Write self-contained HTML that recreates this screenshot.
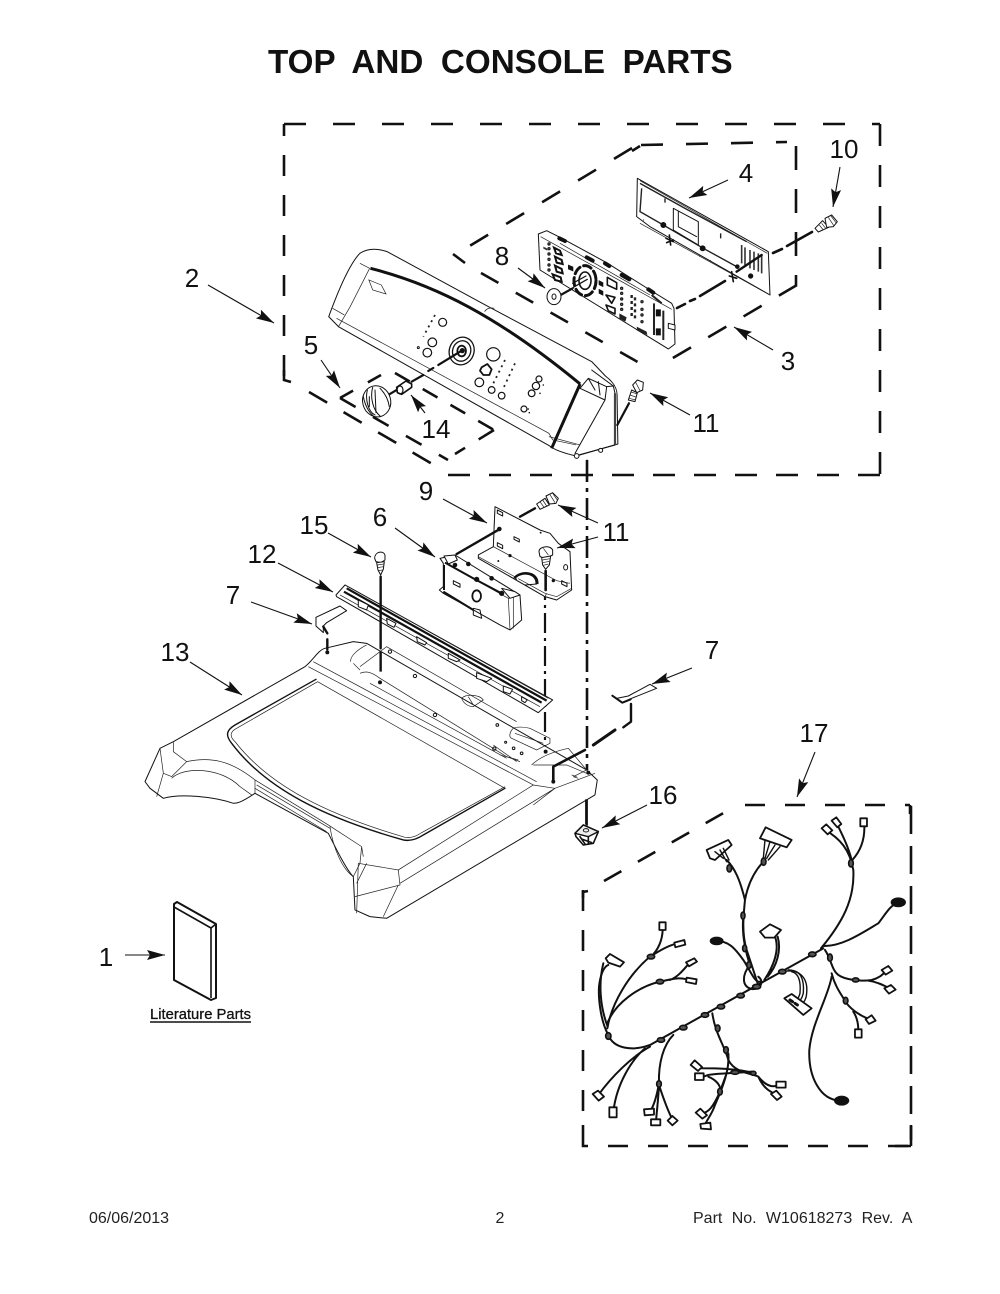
<!DOCTYPE html>
<html><head><meta charset="utf-8"><style>
html,body{margin:0;padding:0;background:#fff}
svg{display:block}
svg *{vector-effect:non-scaling-stroke}
text{font-family:"Liberation Sans",sans-serif;fill:#111}
.n{font-size:26px;text-anchor:middle}
.f{font-size:16px;fill:#222}
.l{fill:none;stroke:#111;stroke-width:1;stroke-linejoin:round;stroke-linecap:round}
.t{fill:none;stroke:#222;stroke-width:.7}
.w{fill:#fff;stroke:#111;stroke-width:1;stroke-linejoin:round}
.d{fill:none;stroke:#111;stroke-width:2.6}
.b{fill:#111;stroke:#111;stroke-width:.6}
.h{fill:none;stroke:#111;stroke-width:2;stroke-linecap:round;stroke-linejoin:round}
.c{fill:#fff;stroke:#111;stroke-width:1.8;stroke-linejoin:round}
.e{fill:#555;stroke:#111;stroke-width:1.6}
</style></head><body>
<svg width="1000" height="1294" viewBox="0 0 1000 1294" xmlns="http://www.w3.org/2000/svg">
<defs><marker id="m" markerUnits="userSpaceOnUse" markerWidth="20" markerHeight="12" refX="18" refY="5" orient="auto"><path d="M0,0L18,5L0,10L3,5Z" fill="#111"/></marker></defs>

<text x="268" y="73" style="font-size:33.2px;font-weight:bold;word-spacing:8.4px">TOP AND CONSOLE PARTS</text>

<!-- Outer dashed box -->
<path class="d" stroke-dasharray="21 19" d="M284,376V124"/>
<path class="d" stroke-dasharray="22 27" d="M284,124H880"/>
<path class="d" stroke-dasharray="22 19" d="M880,124V476"/>
<path class="d" stroke-dasharray="22 19" d="M880,475H448"/>
<path class="d" d="M284,370V380L291,382"/>
<path class="d" stroke-dasharray="21 19" d="M309,392L434,465"/>

<!-- Inner dashed box (3) -->
<path class="d" stroke-dasharray="21 21" d="M632,148L453,256"/>
<path class="d" d="M640,146L632,151M453,254L465,263"/>
<path class="d" stroke-dasharray="22 23" d="M641,145L787,142"/>
<path class="d" stroke-dasharray="24 19" d="M796,146V285"/>
<path class="d" stroke-dasharray="21 20" d="M797,285L661,365"/>
<path class="d" stroke-dasharray="20 20" d="M481,273L650,369"/>

<!-- Box 5 -->
<path class="d" stroke-dasharray="15 17" d="M340,398L381,375"/>
<path class="d" stroke-dasharray="18 20" d="M340,398L448,460"/>
<path class="d" stroke-dasharray="17 15" d="M395,373L494,430"/>
<path class="d" stroke-dasharray="18 16" d="M494,430L455,454"/>

<!-- Dash-dot centre lines -->
<path class="d" stroke-dasharray="22 6 4 6" d="M587,460V770"/>
<path class="h" d="M587,800V825" style="stroke-width:1.8"/>
<path class="d" style="stroke-width:2.2" stroke-dasharray="20 5 3 5" d="M545,580V750"/>

<!-- Connector dashes at boards -->
<path class="h" d="M677,308L685,304M690,301L695,299M700,296L725,281M773,253L782,249M787,246L812,232" style="stroke-width:2.6"/>

<!-- Console shell (crop 1 coordinates) -->
<g transform="translate(280,120) scale(.3897,.3333)">
<path class="w" d="M125,590C150,510 180,430 205,400C225,385 250,385 275,395L535,560L800,725L835,768C860,790 866,810 865,830L867,972L760,1008C730,1000 705,990 692,978L150,620Z"/>
<path class="t" d="M150,620L180,560L230,445M135,565L165,585M205,430L230,445M525,575C530,565 540,562 550,565M690,950L770,975"/>
<path class="t" d="M145,595L690,940L700,960L760,975"/>
<path fill="none" stroke="#111" stroke-width="3" d="M232,445C400,495 560,590 770,792"/>
<path fill="none" stroke="#111" stroke-width="3" d="M770,792L697,985"/>
<path class="t" d="M228,480L260,495L272,522L238,510Z"/>
<path class="h" d="M788,1022V1042M788,1062L788,1078"/>
</g>

<!-- Console right cap + screw 11 (crop A coordinates) -->
<g transform="translate(560,370) scale(.3333)">
<path class="l" d="M60,55L85,25L140,50L135,90L45,250M60,55L135,90M85,25L105,60M115,35L120,75M95,0L160,48L165,70M140,50L160,48"/>
<path fill="none" stroke="#444" stroke-width="2.2" d="M165,70V225"/>
<path class="l" d="M45,258L165,225"/>
<circle class="w" cx="50" cy="258" r="7"/><circle class="w" cx="122" cy="241" r="6"/>
<path class="h" d="M172,165L207,100" style="stroke-width:2.2"/>
<path class="w" d="M205,90L215,60L232,68L225,95Z"/>
<path class="w" d="M218,45L232,30L250,37L248,60L230,68Z"/>
<path class="t" d="M207,85L228,90M210,75L230,82M213,66L233,72M226,35L240,62"/>
</g>

<!-- Panel controls, knob (crop D coordinates) -->
<g transform="translate(340,310) scale(.3333)">
<g class="l" style="stroke-width:1.2">
<circle cx="308" cy="37" r="12"/><circle cx="277" cy="97" r="13"/><circle cx="262" cy="128" r="13"/>
<circle cx="460" cy="133" r="20"/><circle cx="418" cy="217" r="13"/><circle cx="455" cy="240" r="10"/><circle cx="485" cy="257" r="10"/><circle cx="552" cy="297" r="9"/>
<circle cx="597" cy="207" r="9"/><circle cx="588" cy="228" r="11"/><circle cx="575" cy="250" r="10"/>
</g>
<path d="M425,172L442,162L455,178L448,195L430,195L420,182Z" fill="none" stroke="#111" stroke-width="1.8" stroke-linejoin="round"/>
<circle class="l" cx="235" cy="113" r="3"/>
<path fill="none" stroke="#222" stroke-width="1.8" stroke-dasharray="2 4" d="M285,15L250,80M495,150L460,220M525,160L490,235"/>
<circle class="b" cx="565" cy="297" r="1.5"/><circle class="b" cx="568" cy="308" r="1.5"/><circle class="b" cx="610" cy="225" r="1.5"/><circle class="b" cx="600" cy="250" r="1.5"/>
<ellipse class="l" cx="365" cy="123" rx="37" ry="42" transform="rotate(20 365 123)" style="stroke-width:1.3"/>
<ellipse class="l" cx="365" cy="123" rx="27" ry="31" transform="rotate(20 365 123)" style="stroke-width:1.3"/>
<ellipse cx="365" cy="123" rx="13" ry="16" fill="none" stroke="#111" stroke-width="1.8"/>
<circle class="b" cx="367" cy="122" r="7"/>
<path class="h" d="M295,165L365,122" style="stroke-width:2.2"/>
<path class="h" d="M265,183L280,174" style="stroke-width:2.2"/>
<path class="h" d="M215,215L250,195M145,255L170,240" style="stroke-width:2.2"/>
<!-- connector 14 -->
<path d="M170,232L198,213L215,222L215,232L185,253L172,248Z" fill="#fff" stroke="#111" stroke-width="1.6" stroke-linejoin="round"/>
<ellipse cx="180" cy="240" rx="9" ry="12" fill="none" stroke="#111" stroke-width="1.2"/>
<!-- knob -->
<ellipse class="w" cx="110" cy="274" rx="42" ry="47" transform="rotate(-15 110 274)"/>
<path class="l" d="M82,240C75,270 85,305 105,315M98,232C90,260 98,300 120,318M70,260C75,285 85,305 100,318M88,260L88,290M105,240L108,308M120,235C135,250 145,270 148,290"/>
</g>

<!-- Control panel 4 (crop C coordinates) -->
<g transform="translate(630,170) scale(.3333)">
<path class="w" d="M22,25L415,245L420,375L60,170L20,140Z"/>
<path class="t" d="M30,32L412,250M30,160L420,375"/>
<path fill="none" stroke="#222" stroke-width="1.4" d="M30,40L165,115L285,180L350,215M35,55L30,125L100,165L220,235L320,290"/>
<path class="l" d="M130,115L205,155V225L130,180ZM145,125V170L200,200"/>
<path fill="none" stroke="#333" stroke-width="1.6" d="M335,225V280M345,232V285M360,240V295M372,245V300M385,250V305M395,255V310"/>
<path fill="none" stroke="#222" stroke-width="1.4" d="M272,190V205M105,85V98M40,150h2M208,258h2M240,272h2"/>
<circle class="b" cx="100" cy="165" r="8"/><circle class="b" cx="218" cy="235" r="8"/><circle class="b" cx="322" cy="290" r="6"/><circle class="b" cx="362" cy="318" r="7"/>
<path class="l" d="M108,205L130,215M118,195L122,225M110,218L130,210M298,318L320,325M305,305L310,335" style="stroke-width:1.6"/>
<path class="h" d="M320,305L395,255" style="stroke-width:2.4"/>
<!-- screw 10 -->
<path class="w" d="M555,175L578,152L596,172L565,186Z"/>
<path class="w" d="M585,145L605,135L622,155L610,170L590,172Z"/>
<path class="t" d="M595,142L612,168M603,138L618,158M568,165L580,180M575,160L587,175"/>
</g>

<!-- Board 8 (crop 5 coordinates) -->
<g transform="translate(530,220) scale(.3333)">
<path class="w" d="M25,42L50,32L90,52L230,128L360,210L425,250L432,265L435,372L415,387L30,150Z"/>
<path class="t" d="M32,50L425,268M90,70L360,225"/>
<g fill="none" stroke="#222" stroke-width="1.4"><circle cx="57" cy="72" r="3"/><circle cx="57" cy="86" r="3"/><circle cx="57" cy="102" r="3"/><circle cx="57" cy="118" r="3"/><circle cx="57" cy="135" r="3"/><circle cx="57" cy="150" r="3"/><circle cx="275" cy="205" r="3"/><circle cx="275" cy="220" r="3"/><circle cx="275" cy="237" r="3"/><circle cx="275" cy="253" r="3"/><circle cx="275" cy="268" r="3"/><circle cx="336" cy="245" r="3"/><circle cx="336" cy="268" r="3"/><circle cx="336" cy="285" r="3"/><circle cx="336" cy="305" r="3"/></g>
<path d="M72,83L90,92L95,105L78,100ZM75,110L95,120L98,132L80,128ZM75,137L95,147L98,160L80,155ZM68,163L92,172L95,185L75,180Z" fill="#fff" stroke="#111" stroke-width="2"/>
<path d="M40,80l12,6v6l-12,-6z" fill="#333"/>
<path fill="none" stroke="#111" stroke-width="4" stroke-linecap="round" d="M88,55L105,63M170,112L188,122M225,130L238,138M275,165L298,178M355,208L370,218"/>
<path fill="none" stroke="#222" stroke-width="2.4" stroke-dasharray="3 3" d="M305,225V295M315,232V300"/>
<path fill="none" stroke="#111" stroke-width="5" stroke-dasharray="7 12" d="M385,268V365"/>
<path fill="none" stroke="#222" stroke-width="2" d="M365,225L395,250M372,250L372,345M400,272V360"/>
<ellipse class="l" cx="165" cy="182" rx="33" ry="45" style="stroke-width:3;stroke-dasharray:8 4"/>
<ellipse class="l" cx="165" cy="182" rx="18" ry="26" style="stroke-width:1.6"/>
<path class="l" d="M168,168L128,190M172,178L130,202" style="stroke-width:1.2"/>
<path class="h" d="M128,205L92,225" style="stroke-width:2.2"/>
<path class="b" d="M115,135l14,6v12l-14,-6zM207,182l12,6v12l-12,-6zM207,208l12,6v12l-12,-6z"/>
<path class="l" d="M232,172L260,188V208L232,195ZM228,225L255,232L245,250ZM228,255L255,265V282L235,272Z" style="stroke-width:1.6"/>
<path d="M268,280L290,292L286,305L268,295ZM320,320L350,335L352,345L322,332Z" fill="#222"/>
<path class="w" d="M415,310L435,315V330L415,325Z"/>
<!-- Washer 8 -->
<ellipse class="w" cx="72" cy="230" rx="21" ry="24"/>
<ellipse class="l" cx="72" cy="230" rx="6" ry="8"/>
</g>

<!-- Main top (crop 2 coordinates) -->
<g transform="translate(140,480) scale(.3333)">
<path class="w" d="M15,905L60,805L100,785L495,560C520,540 535,510 555,505L640,485L680,490L1340,870L1372,900L1365,945L740,1315L690,1310L645,1290L640,1190C620,1170 590,1110 565,1060L345,940C300,970 290,970 280,970C220,950 120,940 70,955L30,925Z"/>
<path class="t" d="M100,785L100,815L140,845M60,805L70,880L95,890L140,845C210,830 270,840 345,900L345,940M345,900L565,1035L665,1100L660,1150L640,1190M665,1100L670,1130M655,1150L775,1170L1180,915L1245,925"/>
<path class="t" d="M95,895C130,860 240,860 300,920L335,945M70,880L50,950M505,560L1180,915M520,545L1190,905M775,1170L780,1215L645,1250M730,1310L775,1215M655,1150L650,1300M680,1150L650,1210M780,1210L1245,925L1180,975M1365,880L1245,925M1180,855L1280,855L1340,880"/>
<path class="t" d="M345,925L560,1055M350,915L570,1045M570,1040C580,1110 610,1170 640,1190"/>
<path class="l" style="stroke-width:1.4" d="M528,598L285,735C260,750 255,765 275,790C380,930 560,1015 790,1080C815,1085 835,1075 850,1065L1095,925"/>
<path class="t" d="M533,605L290,745C270,755 268,770 285,785C390,920 565,1005 795,1072C815,1075 830,1068 845,1058L1095,920M533,605L1095,925"/>
<path class="t" d="M632,545C630,530 650,510 680,495M660,560L740,500L1130,725M660,580C680,570 700,580 720,595L1100,830L1140,845M640,550L660,570M690,610L1100,835M1120,745C1110,755 1105,770 1115,775L1190,810L1230,790L1230,775L1170,745C1150,740 1130,740 1120,745ZM1125,760L1210,790"/>
<path class="t" d="M965,655C980,640 1020,645 1030,660L1000,680C985,680 970,670 965,655ZM985,650L1000,675M1060,795L1130,845M1080,825L1135,840"/>
<circle class="l" cx="825" cy="588" r="5"/><circle class="l" cx="885" cy="705" r="5"/><circle class="l" cx="1072" cy="735" r="4"/><circle class="l" cx="1063" cy="806" r="5"/><circle class="l" cx="1097" cy="787" r="3"/><circle class="l" cx="1121" cy="805" r="4"/><circle class="l" cx="1145" cy="820" r="4"/><circle class="l" cx="750" cy="515" r="5"/>
<circle class="b" cx="562" cy="517" r="5"/><circle class="b" cx="720" cy="607" r="5"/><circle class="b" cx="1217" cy="815" r="5"/><circle class="b" cx="1240" cy="905" r="5"/><circle class="b" cx="1345" cy="878" r="5"/>
<path class="t" d="M1175,855C1200,830 1240,815 1285,805L1340,870L1300,890M1295,885l15,5M1300,890l15,5"/>
<!-- Strip 12 -->
<path class="w" d="M588,345L615,315L1238,660L1195,698L590,350Z"/>
<path class="t" d="M600,345L1200,680M625,320L1225,655"/>
<path fill="none" stroke="#111" stroke-width="2.2" d="M620,325L1220,662M612,335L1205,668"/>
<path class="l" d="M655,360L685,375L680,390L655,380ZM740,415L768,430L762,442L742,432ZM830,470L860,488L855,495L832,485ZM925,520L960,540L950,545L925,535ZM1010,578L1055,595L1040,605L1010,595ZM1090,618L1118,628L1110,642L1090,635ZM1145,650L1162,660L1155,668L1145,662Z" style="fill:#fff"/>
<!-- Clip 7 -->
<path class="w" d="M528,412L600,378L620,392L560,428L550,438V458L528,438Z"/>
<path class="h" d="M550,440L562,460M562,478V508" style="stroke-width:2.4"/>
<!-- Screw 15 -->
<path class="w" d="M704,235C704,215 730,210 735,225L735,240L722,248L708,245Z"/>
<path class="w" d="M710,248L733,245L730,268L722,285L714,270Z"/>
<path class="t" d="M712,255L732,252M712,263L731,260M714,272L728,270"/>
<path class="h" d="M722,290V505" style="stroke-width:2.4"/>
<path class="d" stroke-dasharray="20 10" d="M722,515V610" style="stroke-width:2.4"/>
<!-- Lines to right -->
<path class="h" d="M1240,905V860L1335,810" style="stroke-width:2.6"/>
</g>

<!-- Bracket + module (crop B coordinates) -->
<g transform="translate(430,490) scale(.3333)">
<path class="w" d="M195,50L330,120L360,130L385,160L420,185L425,300L380,330L345,320L145,205V195L190,170Z"/>
<path class="t" d="M190,170L195,50M190,170L380,272L420,280M145,200L345,310L380,320L425,295M345,320L350,310"/>
<path class="l" d="M202,60l16,8v10l-16,-8zM202,158l16,8v10l-16,-8zM252,140l16,8v8l-16,-8zM395,272l16,8v10l-16,-8z"/>
<ellipse class="l" cx="407" cy="232" rx="6" ry="8"/>
<circle class="b" cx="208" cy="117" r="6"/><circle class="b" cx="205" cy="213" r="2"/><circle class="b" cx="240" cy="197" r="4"/><circle class="b" cx="370" cy="272" r="4"/><circle class="b" cx="332" cy="128" r="2"/>
<path fill="none" stroke="#111" stroke-width="3.8" d="M255,266C270,245 322,245 320,282"/>
<path fill="none" stroke="#fff" stroke-width="1.6" d="M260,266C274,251 316,252 314,282"/>
<path class="l" d="M285,285L320,282"/>
<path class="h" d="M80,192L208,118M270,80L315,55" style="stroke-width:2.4"/>
<!-- screw upper -->
<path class="w" d="M320,42L345,25L358,45L330,58Z"/>
<path class="w" d="M348,18L368,8L385,25L378,40L358,42Z"/>
<path class="t" d="M330,35L342,52M338,30L350,48M360,14L375,38M368,10L382,30"/>
<!-- module -->
<path class="w" d="M30,205L75,195L270,315L275,390L240,420L210,405L130,360L40,310L28,300L40,290V220Z"/>
<path class="t" d="M45,218L235,325L240,420M235,325L270,315M250,320V415"/>
<path fill="none" stroke="#111" stroke-width="2" d="M45,218L130,265L215,310M42,225V300M40,305L130,360"/>
<ellipse class="l" cx="140" cy="318" rx="13" ry="17" style="stroke-width:1.8"/>
<path class="l" d="M70,272l20,10v10l-20,-10zM130,355L150,360L155,385L130,375Z"/>
<circle class="b" cx="140" cy="268" r="7"/><circle class="b" cx="215" cy="310" r="7"/><circle class="b" cx="75" cy="225" r="6"/><circle class="b" cx="185" cy="265" r="6"/><circle class="b" cx="115" cy="222" r="6"/>
<path class="w" d="M215,295L255,305L270,315L240,325Z"/>
<path class="w" d="M42,198L75,195L82,210L55,222Z"/>
<!-- screw lower -->
<path class="w" d="M327,185C327,168 362,165 368,180L368,195L345,205L330,200Z"/>
<path class="w" d="M335,203L362,198L358,225L347,238L338,225Z"/>
<path class="t" d="M337,210L360,206M338,218L358,214M340,226L355,222M340,175L355,195"/>
<path class="h" d="M347,243V300" style="stroke-width:2.6"/>
</g>

<!-- Clip 7 right + foot 16 (crop E coordinates) -->
<g transform="translate(560,680) scale(.3333)">
<path class="w" d="M157,47L185,68L215,55L290,25L270,13L205,48L170,55Z"/>
<path class="h" d="M157,47L187,68L212,58" style="stroke-width:2"/>
<path class="h" d="M213,72V125L190,142" style="stroke-width:2.4"/>
<path class="h" d="M165,150L100,195" style="stroke-width:3"/>
<path d="M45,460L70,435L115,455L100,490L70,495L48,470Z" fill="#fff" stroke="#111" stroke-width="1.6" stroke-linejoin="round"/>
<path d="M45,460L70,435L115,455L85,470Z" fill="#eee" stroke="#111" stroke-width="1.4" stroke-linejoin="round"/>
<ellipse class="l" cx="78" cy="451" rx="8" ry="5"/>
<path class="l" d="M60,470L75,492M85,472V492M68,478L95,488" style="stroke-width:1.6"/>
<path class="h" d="M78,360V432" style="stroke-width:1.8"/>
</g>

<!-- Book -->
<g transform="translate(120,890)">
<path d="M54,14L57,12L96,34L96,108L91,110L54,90Z" fill="#fff" stroke="#111" stroke-width="2" stroke-linejoin="round"/>
<path d="M54,17L91,38V108M91,38L96,34" fill="none" stroke="#111" stroke-width="1.6"/>
</g>

<!-- Harness box -->
<path class="d" stroke-dasharray="20 20" d="M745,805H910"/>
<path class="d" d="M910,805V814"/>
<path class="d" stroke-dasharray="28 12" d="M911,806V1140"/>
<path class="d" d="M911,1125V1146M911,1146H895M583,1125V1146H588"/>
<path class="d" stroke-dasharray="20 20" d="M908,1146H608"/>
<path class="d" stroke-dasharray="21 19" d="M583,890V1125"/>
<path class="d" d="M583,898V892L588,891"/>
<path class="d" stroke-dasharray="20 19" d="M604,881L727,811"/>

<!-- Harness (crop 3 coordinates) -->
<g transform="translate(575,790) scale(.3333)">
<path class="h" d="M745,475L225,765C170,785 115,775 100,735C75,690 70,620 72,590C75,560 85,530 100,525"/>
<path class="h" d="M85,520C70,580 75,650 98,710"/>
<path class="h" d="M97,715C110,640 160,555 225,500C250,485 280,465 310,460"/>
<path class="h" d="M97,700C120,640 190,590 255,575C300,565 320,560 345,572M285,570C310,560 325,540 345,517M228,500C250,480 262,450 263,420"/>
<path class="h" d="M510,330C495,270 480,235 455,210M510,330C520,275 545,235 570,210M510,330C505,380 500,430 515,480C525,510 530,525 548,580M505,380C500,430 510,480 525,525"/>
<path class="h" d="M415,452C460,450 480,475 505,510C525,540 540,580 555,575"/>
<path class="h" d="M525,525C500,555 500,590 530,597C555,600 570,575 550,560"/>
<path class="h" d="M568,570C595,530 615,480 600,440M578,560C605,530 620,480 608,440"/>
<path class="h" d="M738,475C800,400 840,330 835,240C825,180 795,145 750,120M830,210C820,170 800,130 785,100M832,210C855,185 870,150 868,105"/>
<path class="h" d="M745,468C800,470 860,430 910,400C930,375 945,345 970,338"/>
<path class="h" d="M750,480C770,510 770,540 790,555C810,570 860,575 890,570C910,565 925,555 935,540M880,572C905,575 925,585 945,596"/>
<path class="h" d="M770,550C780,590 800,615 815,640C830,660 860,680 885,688M835,665C845,680 850,700 850,720"/>
<path class="h" d="M770,560C760,620 710,700 703,780C700,860 735,930 795,932"/>
<path class="h" d="M625,545C670,535 700,560 695,610C695,625 685,640 675,650" style="stroke-width:1.4"/>
<path class="h" d="M640,540C680,540 688,570 685,610C680,630 670,640 660,645M650,545C672,550 678,575 675,610C670,630 660,635 650,640" style="stroke-width:1.4"/>
<path class="h" d="M412,670C420,730 450,770 460,810C480,850 530,850 550,860C570,885 590,895 610,885M550,860C565,895 585,905 605,915"/>
<path class="h" d="M460,790C465,840 440,900 420,945C410,975 395,990 390,1005M455,850L435,905C415,950 400,970 378,970"/>
<path class="h" d="M540,850C480,835 420,835 380,835L362,825M530,845C480,850 430,850 400,855L385,860M400,860C425,870 440,890 435,905"/>
<path class="h" d="M295,735C265,765 250,820 252,880C245,920 235,950 225,965M252,885C250,930 245,965 243,995M252,885C265,925 280,965 292,988"/>
<path class="h" d="M225,770C170,800 110,860 70,915M210,775C170,810 125,880 115,965"/>
<path class="c" d="M395,180L460,150L470,165L420,210L405,205Z"/>
<path class="c" d="M555,145L572,112L650,150L635,172Z"/>
<path class="h" d="M420,185L445,205M435,180L455,215M445,175L462,210M570,150L565,205M585,155L570,205M600,165L575,205M615,170L580,210" style="stroke-width:1.4"/>
<path class="c" d="M555,425L585,403L618,420L598,443L570,443Z"/>
<path class="c" d="M92,505L105,492L147,517L135,530L100,518Z"/>
<path class="c" d="M628,625L650,612L710,655L685,675Z"/>
<path class="h" d="M645,630L660,640M660,640L675,650" style="stroke-width:3;stroke-dasharray:3 8"/>
<path class="c" d="M253,397h19v23h-19zM298,458l30,-8l3,14l-30,8zM333,517l25,-12l8,10l-24,14zM335,563l30,5l-2,14l-30,-6zM740,115l14,-12l18,18l-14,12zM770,92l14,-10l15,20l-12,10zM856,85h20v24h-20zM920,540l20,-12l12,14l-20,12zM928,595l20,-10l14,14l-20,12zM872,688l18,-12l12,16l-20,10zM840,718h20v25h-20zM604,875h28v18h-28zM588,912l16,-10l16,18l-14,10zM360,850h26v20h-26zM347,825l12,-14l22,20l-12,12zM362,968l14,-12l20,20l-14,10zM376,1002l30,-4l2,20l-30,-2zM207,958l30,-2v18l-28,2zM228,988h28v18h-28zM278,992l14,-14l16,14l-16,14zM103,952h22v30h-22zM53,912l16,-10l18,18l-16,12z"/>
<g class="b">
<ellipse cx="425" cy="453" rx="20" ry="12"/><ellipse cx="970" cy="337" rx="22" ry="14"/><ellipse cx="800" cy="932" rx="22" ry="14"/>
</g>
<g class="e">
<ellipse cx="463" cy="235" rx="7" ry="11"/><ellipse cx="566" cy="215" rx="7" ry="11"/><ellipse cx="504" cy="377" rx="6" ry="11"/><ellipse cx="509" cy="475" rx="6" ry="10"/><ellipse cx="522" cy="525" rx="7" ry="10"/><ellipse cx="828" cy="220" rx="7" ry="11"/><ellipse cx="765" cy="503" rx="7" ry="11"/><ellipse cx="812" cy="632" rx="7" ry="10"/><ellipse cx="842" cy="570" rx="10" ry="6"/>
<ellipse cx="712" cy="493" rx="11" ry="7"/><ellipse cx="622" cy="545" rx="11" ry="7"/><ellipse cx="545" cy="590" rx="12" ry="7"/><ellipse cx="497" cy="617" rx="11" ry="7"/><ellipse cx="438" cy="650" rx="11" ry="7"/><ellipse cx="390" cy="675" rx="11" ry="7"/><ellipse cx="325" cy="713" rx="11" ry="7"/><ellipse cx="258" cy="750" rx="11" ry="7"/>
<ellipse cx="228" cy="500" rx="11" ry="7"/><ellipse cx="255" cy="575" rx="11" ry="7"/><ellipse cx="100" cy="738" rx="8" ry="10"/>
<ellipse cx="428" cy="715" rx="7" ry="10"/><ellipse cx="453" cy="780" rx="7" ry="10"/><ellipse cx="435" cy="905" rx="7" ry="10"/><ellipse cx="480" cy="847" rx="12" ry="6"/><ellipse cx="535" cy="850" rx="8" ry="6"/><ellipse cx="252" cy="882" rx="7" ry="10"/>
</g>
</g>

<!-- Leader arrows -->
<g stroke="#111" stroke-width="1.1">
<path d="M208,285L274,323" marker-end="url(#m)"/>
<path d="M321,360L340,388" marker-end="url(#m)"/>
<path d="M425,413L411,395" marker-end="url(#m)"/>
<path d="M518,268L545,288" marker-end="url(#m)"/>
<path d="M728,180L689,198" marker-end="url(#m)"/>
<path d="M840,167L833,207" marker-end="url(#m)"/>
<path d="M773,350L734,327" marker-end="url(#m)"/>
<path d="M690,415L650,393" marker-end="url(#m)"/>
<path d="M443,499L487,523" marker-end="url(#m)"/>
<path d="M598,523L558,505" marker-end="url(#m)"/>
<path d="M598,537L557,548" marker-end="url(#m)"/>
<path d="M328,533L371,557" marker-end="url(#m)"/>
<path d="M395,528L435,557" marker-end="url(#m)"/>
<path d="M278,563L333,592" marker-end="url(#m)"/>
<path d="M251,602L312,624" marker-end="url(#m)"/>
<path d="M190,662L242,695" marker-end="url(#m)"/>
<path d="M692,668L652,684" marker-end="url(#m)"/>
<path d="M647,805L602,828" marker-end="url(#m)"/>
<path d="M815,752L797,797" marker-end="url(#m)"/>
<path d="M125,955L165,955" marker-end="url(#m)"/>
</g>

<!-- Labels -->
<text class="n" x="192" y="287">2</text>
<text class="n" x="311" y="354">5</text>
<text class="n" x="436" y="438">14</text>
<text class="n" x="502" y="265">8</text>
<text class="n" x="746" y="182">4</text>
<text class="n" x="844" y="158">10</text>
<text class="n" x="788" y="370">3</text>
<text class="n" x="706" y="432">11</text>
<text class="n" x="426" y="500">9</text>
<text class="n" x="616" y="541">11</text>
<text class="n" x="380" y="526">6</text>
<text class="n" x="314" y="534">15</text>
<text class="n" x="262" y="563">12</text>
<text class="n" x="233" y="604">7</text>
<text class="n" x="175" y="661">13</text>
<text class="n" x="712" y="659">7</text>
<text class="n" x="663" y="804">16</text>
<text class="n" x="814" y="742">17</text>
<text class="n" x="106" y="966">1</text>

<text x="150" y="1019" textLength="101" lengthAdjust="spacingAndGlyphs" style="font-size:15px;stroke:#111;stroke-width:.3">Literature Parts</text>
<path d="M150,1022H251" stroke="#111" stroke-width="1.4"/>

<text class="f" x="89" y="1223">06/06/2013</text>
<text class="f" x="500" y="1223" text-anchor="middle">2</text>
<text class="f" x="693" y="1223" style="word-spacing:4.9px">Part No. W10618273 Rev. A</text>
</svg>
</body></html>
